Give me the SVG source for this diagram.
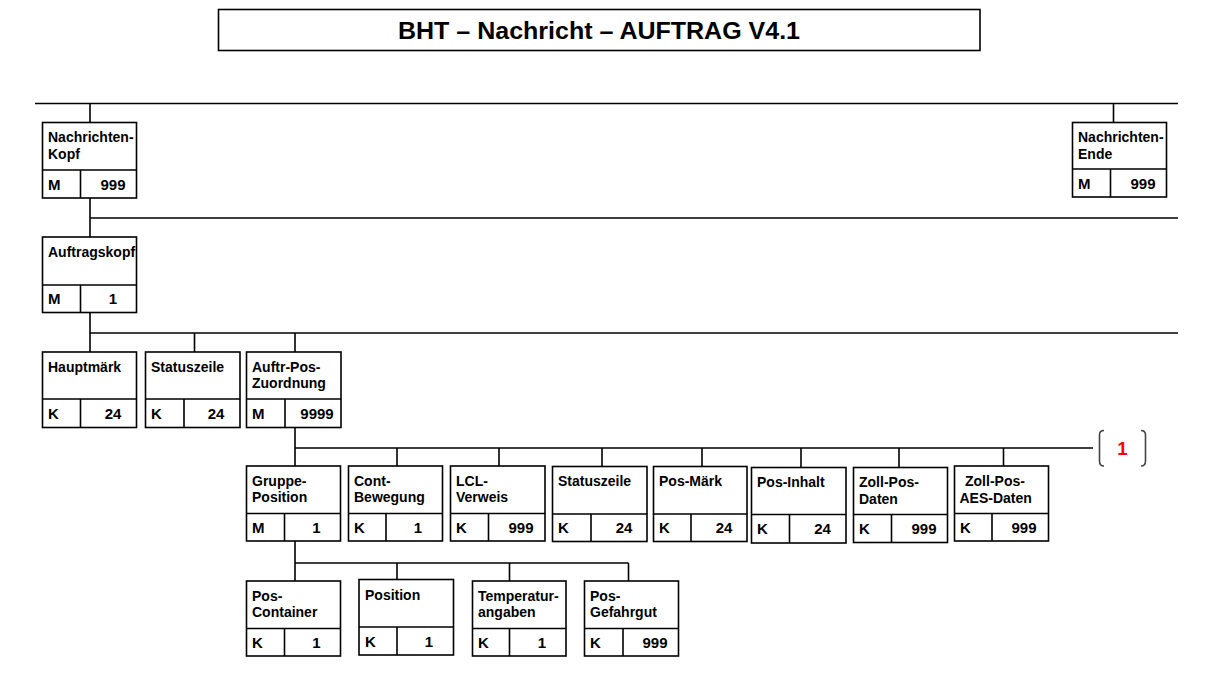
<svg xmlns="http://www.w3.org/2000/svg" width="1207" height="675" viewBox="0 0 1207 675">
<style>
.bx{fill:#fff;stroke:#000;stroke-width:1.6}
.dv{fill:none;stroke:#000;stroke-width:1.6}
.cn{fill:none;stroke:#000;stroke-width:1.6}
.t{font-family:"Liberation Sans",Arial,sans-serif;font-weight:bold;font-size:14px;fill:#000}
.c{font-family:"Liberation Sans",Arial,sans-serif;font-weight:bold;font-size:15px;fill:#000}
.n{font-family:"Liberation Sans",Arial,sans-serif;font-weight:bold;font-size:15px;fill:#000;text-anchor:middle}
.title{font-family:"Liberation Sans",Arial,sans-serif;font-weight:bold;font-size:24px;fill:#000;text-anchor:middle}
.br{fill:none;stroke:#444;stroke-width:1.6}
</style>
<rect width="1207" height="675" fill="#fff"/>
<g id="title">
<rect x="218.5" y="9.5" width="761.5" height="41" class="bx"/>
<text x="599" y="38.5" class="title" textLength="402" lengthAdjust="spacingAndGlyphs">BHT – Nachricht – AUFTRAG V4.1</text>
</g>
<g id="connectors">
<path class="cn" d="M35 103.5H1178M90 103.5V122M1113.5 103.5V122"/>
<path class="cn" d="M90 198V218H1178M90 218V237"/>
<path class="cn" d="M90 312V333H1178M90 333V352M194.5 333V352M295 333V352"/>
<path class="cn" d="M295 427.5V448H1093M295 448V466M397 448V466M499 448V466M602 448V466M702 448V466M801 448V467.5M899 448V467.5M1003.5 448V466"/>
<path class="cn" d="M295 541V581M295 563H628.5M397 563V579.5M509.5 563V581M628.5 563V581"/>
</g>
<g id="ref-1">
<path class="br" d="M1104 430.5Q1099.5 430.5 1099.5 435V461Q1099.5 466 1104 466"/>
<path class="br" d="M1141 430.5Q1145.5 430.5 1145.5 435V461Q1145.5 466 1141 466"/>
<text x="1122.5" y="455" font-family="Liberation Sans, Arial, sans-serif" font-weight="bold" font-size="18.5" fill="#ff0000" text-anchor="middle">1</text>
</g>
<g id="nachrichten-kopf">
<rect x="42.5" y="122.5" width="94" height="75.5" class="bx"/>
<path class="dv" d="M42.5 170H136.5M80.5 170V198"/>
<text x="48" y="142" class="t">Nachrichten-</text>
<text x="48" y="158.5" class="t">Kopf</text>
<text x="48" y="189.5" class="c">M</text>
<text x="113" y="189.5" class="n">999</text>
</g>
<g id="nachrichten-ende">
<rect x="1072.5" y="122.5" width="94" height="74.5" class="bx"/>
<path class="dv" d="M1072.5 169H1166.5M1110.5 169V197"/>
<text x="1078" y="142" class="t">Nachrichten-</text>
<text x="1078" y="158.5" class="t">Ende</text>
<text x="1078" y="189" class="c">M</text>
<text x="1143" y="189" class="n">999</text>
</g>
<g id="auftragskopf">
<rect x="42.5" y="237" width="94" height="75.5" class="bx"/>
<path class="dv" d="M42.5 285H136.5M80.5 285V312.5"/>
<text x="48" y="256.5" class="t">Auftragskopf</text>
<text x="48" y="304" class="c">M</text>
<text x="113" y="304" class="n">1</text>
</g>
<g id="hauptmaerk">
<rect x="42.5" y="352" width="94" height="75.5" class="bx"/>
<path class="dv" d="M42.5 399H136.5M80.5 399V427.5"/>
<text x="48" y="371.5" class="t">Hauptmärk</text>
<text x="48" y="418.5" class="c">K</text>
<text x="113" y="418.5" class="n">24</text>
</g>
<g id="statuszeile-1">
<rect x="145.5" y="352" width="94.5" height="75.5" class="bx"/>
<path class="dv" d="M145.5 399H240M184 399V427.5"/>
<text x="151" y="371.5" class="t">Statuszeile</text>
<text x="151" y="418.5" class="c">K</text>
<text x="216" y="418.5" class="n">24</text>
</g>
<g id="auftr-pos-zuordnung">
<rect x="246.5" y="352" width="94.5" height="75.5" class="bx"/>
<path class="dv" d="M246.5 399H341M285 399V427.5"/>
<text x="252" y="371.5" class="t">Auftr-Pos-</text>
<text x="252" y="388" class="t">Zuordnung</text>
<text x="252" y="418.5" class="c">M</text>
<text x="317" y="418.5" class="n">9999</text>
</g>
<g id="gruppe-position">
<rect x="246.5" y="466" width="94" height="75" class="bx"/>
<path class="dv" d="M246.5 513.5H340.5M284.5 513.5V541"/>
<text x="252" y="485.5" class="t">Gruppe-</text>
<text x="252" y="502" class="t">Position</text>
<text x="252" y="532.5" class="c">M</text>
<text x="316.5" y="532.5" class="n">1</text>
</g>
<g id="cont-bewegung">
<rect x="348.5" y="466" width="94" height="75" class="bx"/>
<path class="dv" d="M348.5 513.5H442.5M386 513.5V541"/>
<text x="354" y="485.5" class="t">Cont-</text>
<text x="354" y="502" class="t">Bewegung</text>
<text x="354" y="532.5" class="c">K</text>
<text x="418" y="532.5" class="n">1</text>
</g>
<g id="lcl-verweis">
<rect x="450.5" y="466" width="94.5" height="75" class="bx"/>
<path class="dv" d="M450.5 513.5H545M488.5 513.5V541"/>
<text x="456" y="485.5" class="t">LCL-</text>
<text x="456" y="502" class="t">Verweis</text>
<text x="456" y="532.5" class="c">K</text>
<text x="521" y="532.5" class="n">999</text>
</g>
<g id="statuszeile-2">
<rect x="552.5" y="466.5" width="94.5" height="75" class="bx"/>
<path class="dv" d="M552.5 514H647M591 514V541.5"/>
<text x="558" y="485.5" class="t">Statuszeile</text>
<text x="558" y="533" class="c">K</text>
<text x="624" y="533" class="n">24</text>
</g>
<g id="pos-maerk">
<rect x="653.5" y="466.5" width="93.5" height="75" class="bx"/>
<path class="dv" d="M653.5 514H747M691 514V541.5"/>
<text x="659" y="485.5" class="t">Pos-Märk</text>
<text x="659" y="533" class="c">K</text>
<text x="724" y="533" class="n">24</text>
</g>
<g id="pos-inhalt">
<rect x="751.5" y="467.5" width="94.5" height="75.5" class="bx"/>
<path class="dv" d="M751.5 514.5H846M789.5 514.5V543"/>
<text x="757" y="487" class="t">Pos-Inhalt</text>
<text x="757" y="534" class="c">K</text>
<text x="822.5" y="534" class="n">24</text>
</g>
<g id="zoll-pos-daten">
<rect x="853.5" y="467.5" width="94" height="75" class="bx"/>
<path class="dv" d="M853.5 514.5H947.5M891.5 514.5V542.5"/>
<text x="859" y="487" class="t">Zoll-Pos-</text>
<text x="859" y="503.5" class="t">Daten</text>
<text x="859" y="534" class="c">K</text>
<text x="924" y="534" class="n">999</text>
</g>
<g id="zoll-pos-aes-daten">
<rect x="954.5" y="466" width="94" height="75" class="bx"/>
<path class="dv" d="M954.5 513.5H1048.5M992 513.5V541"/>
<text x="965" y="486" class="t">Zoll-Pos-</text>
<text x="959.5" y="502.5" class="t">AES-Daten</text>
<text x="960" y="533" class="c">K</text>
<text x="1024" y="533" class="n">999</text>
</g>
<g id="pos-container">
<rect x="246.5" y="581" width="94" height="75" class="bx"/>
<path class="dv" d="M246.5 628.5H340.5M284.5 628.5V656"/>
<text x="252" y="600.5" class="t">Pos-</text>
<text x="252" y="617" class="t">Container</text>
<text x="252" y="647.5" class="c">K</text>
<text x="316.5" y="647.5" class="n">1</text>
</g>
<g id="position">
<rect x="359" y="579.5" width="94.5" height="75.5" class="bx"/>
<path class="dv" d="M359 627H453.5M397 627V655"/>
<text x="365" y="599.5" class="t">Position</text>
<text x="365" y="646.5" class="c">K</text>
<text x="429" y="646.5" class="n">1</text>
</g>
<g id="temperaturangaben">
<rect x="472.5" y="581" width="93.5" height="75" class="bx"/>
<path class="dv" d="M472.5 628.5H566M509.5 628.5V656"/>
<text x="478" y="600.5" class="t">Temperatur-</text>
<text x="478" y="617" class="t">angaben</text>
<text x="478" y="647.5" class="c">K</text>
<text x="542" y="647.5" class="n">1</text>
</g>
<g id="pos-gefahrgut">
<rect x="584.5" y="581" width="94" height="75" class="bx"/>
<path class="dv" d="M584.5 628.5H678.5M623 628.5V656"/>
<text x="590" y="600.5" class="t">Pos-</text>
<text x="590" y="617" class="t">Gefahrgut</text>
<text x="590" y="647.5" class="c">K</text>
<text x="655" y="647.5" class="n">999</text>
</g>
</svg>
